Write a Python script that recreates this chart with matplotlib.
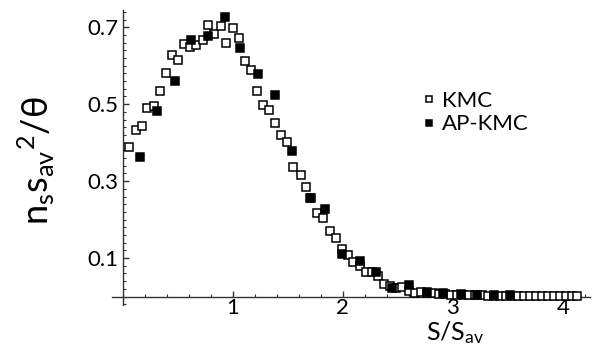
import matplotlib
matplotlib.use("Agg")
import matplotlib.pyplot as plt
from matplotlib.ticker import MultipleLocator, FixedLocator

# KMC (open squares)
kmc_x = [0.057, 0.115, 0.173, 0.221, 0.282, 0.336, 0.388, 0.448, 0.503, 0.558,
         0.612, 0.666, 0.724, 0.776, 0.830, 0.888, 0.942, 0.997, 1.052, 1.106,
         1.161, 1.215, 1.270, 1.327, 1.385, 1.436, 1.494, 1.548, 1.618, 1.661,
         1.714, 1.761, 1.821, 1.879, 1.934, 1.988, 2.048, 2.094, 2.155, 2.206,
         2.261, 2.321, 2.375, 2.430, 2.485, 2.540, 2.597, 2.655, 2.710, 2.765,
         2.820, 2.875, 2.930, 2.985, 3.040, 3.095, 3.150, 3.205, 3.260, 3.315,
         3.370, 3.425, 3.480, 3.535, 3.590, 3.645, 3.700, 3.755, 3.810, 3.865,
         3.920, 3.975, 4.030, 4.085, 4.125]
kmc_y = [0.388, 0.434, 0.444, 0.490, 0.494, 0.534, 0.581, 0.627, 0.614, 0.656,
         0.649, 0.653, 0.668, 0.706, 0.683, 0.704, 0.658, 0.697, 0.671, 0.611,
         0.588, 0.534, 0.497, 0.484, 0.451, 0.419, 0.401, 0.337, 0.317, 0.285,
         0.257, 0.216, 0.203, 0.171, 0.153, 0.123, 0.108, 0.090, 0.079, 0.064,
         0.064, 0.053, 0.032, 0.027, 0.023, 0.025, 0.014, 0.010, 0.012, 0.010,
         0.008, 0.007, 0.006, 0.005, 0.004, 0.004, 0.003, 0.003, 0.003, 0.002,
         0.002, 0.002, 0.001, 0.001, 0.001, 0.001, 0.001, 0.001, 0.001, 0.001,
         0.001, 0.001, 0.001, 0.001, 0.001]

# AP-KMC (filled squares)
ap_x = [0.155, 0.312, 0.470, 0.618, 0.770, 0.924, 1.067, 1.229, 1.385, 1.540,
        1.700, 1.836, 1.994, 2.152, 2.300, 2.450, 2.605, 2.760, 2.910, 3.070,
        3.220, 3.370, 3.520]
ap_y = [0.363, 0.482, 0.561, 0.668, 0.677, 0.727, 0.646, 0.578, 0.525, 0.379,
        0.255, 0.227, 0.110, 0.093, 0.064, 0.023, 0.030, 0.012, 0.009, 0.007,
        0.005, 0.004, 0.003]

x_ticks = [1, 2, 3, 4]
y_ticks = [0.1, 0.3, 0.5, 0.7]

plt.rcParams['font.family'] = ['Lato', 'DejaVu Sans']
plt.rcParams['mathtext.fontset'] = 'dejavusans'
plt.rcParams['mathtext.default'] = 'regular'

fig = plt.figure(figsize=(5.95, 3.5), dpi=100)
ax = fig.add_axes([0.188, 0.1286, 0.8034, 0.843])

ax.plot(kmc_x, kmc_y, linestyle='none', marker='s', markersize=5.2,
        markerfacecolor='white', markeredgecolor='black', markeredgewidth=1.1,
        label='KMC', zorder=3)
ax.plot(ap_x, ap_y, linestyle='none', marker='s', markersize=5.2,
        markerfacecolor='black', markeredgecolor='black', markeredgewidth=1.1,
        label='AP-KMC', zorder=4)

ax.set_xlim(-0.1, 4.245)
ax.set_ylim(-0.022, 0.745)

for s in ['top', 'right']:
    ax.spines[s].set_visible(False)
ax.spines['left'].set_position(('data', 0))
ax.spines['bottom'].set_position(('data', 0))
for s in ['left', 'bottom']:
    ax.spines[s].set_linewidth(1.0)
    ax.spines[s].set_color('#333333')

ax.xaxis.set_major_locator(FixedLocator(x_ticks))
ax.xaxis.set_minor_locator(MultipleLocator(0.2))
ax.yaxis.set_major_locator(FixedLocator(y_ticks))
ax.yaxis.set_minor_locator(MultipleLocator(0.02))
ax.set_yticklabels(['0.1', '0.3', '0.5', '0.7'])
ax.tick_params(which='both', direction='in', color='#333333')
ax.tick_params(which='major', length=4, width=1.0, labelsize=16, pad=3)
ax.tick_params(axis='x', which='major', pad=1)
ax.tick_params(which='minor', length=2.5, width=0.8)

fig.text(0.062, 0.54, r'$n_s s_{av}{}^{2}/\theta$', rotation=90,
         ha='center', va='center', fontsize=26)
fig.text(0.765, 0.012, r'$S/S_{av}$', ha='center', va='bottom', fontsize=18)

ax.legend(loc='upper left', bbox_to_anchor=(0.69, 0.765),
          bbox_transform=fig.transFigure, frameon=False, fontsize=16,
          handletextpad=0.1, handlelength=0.9, labelspacing=0.15,
          borderaxespad=0, markerscale=0.8)

fig.savefig('out.png', dpi=100)
